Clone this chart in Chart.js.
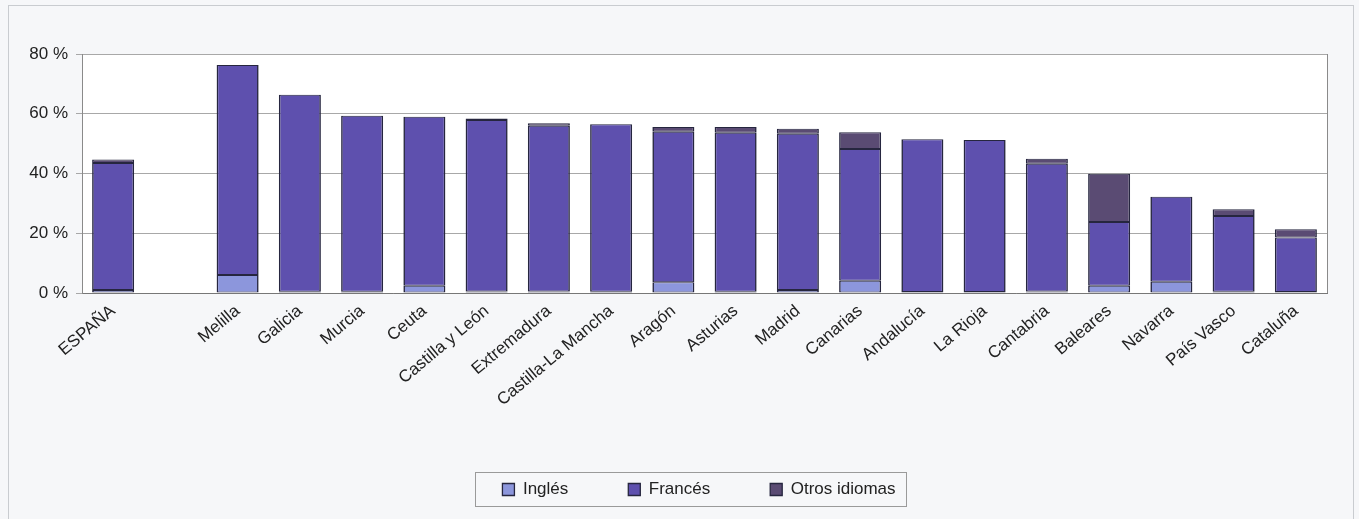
<!DOCTYPE html>
<html>
<head>
<meta charset="utf-8">
<script src="https://cdn.jsdelivr.net/npm/chart.js@4.4.1/dist/chart.umd.min.js"></script>
<style>
    body { margin: 0; background: #f6f7f9; overflow: hidden; }
    #wrap {
        position: absolute; left: 8px; top: 5px;
        width: 1344px; height: 520px;
        border: 1px solid #c9ccd0;
    }
</style>
</head>
<body>
<div id="wrap"><canvas id="myChart" width="1344" height="520"></canvas></div>
<script>
// Regions (empty slot between ESPAÑA and the regions)
let labels = ['ESPAÑA', '', 'Melilla', 'Galicia', 'Murcia', 'Ceuta', 'Castilla y León', 'Extremadura',
    'Castilla-La Mancha', 'Aragón', 'Asturias', 'Madrid', 'Canarias', 'Andalucía', 'La Rioja',
    'Cantabria', 'Baleares', 'Navarra', 'País Vasco', 'Cataluña'];

// Percent of students per second language
let ingles   = [1.0, null, 6.0, 0.4, 0.4, 2.4, 0.5, 0.5, 0.4, 3.6, 0.4, 1.0, 4.1, 0.3, 0.3, 0.5, 2.4, 3.8, 0.4, 0.3];
let frances  = [42.5, null, 70.3, 66.0, 58.9, 56.6, 57.4, 55.5, 56.1, 50.4, 53.2, 52.3, 44.1, 51.2, 50.9, 42.8, 21.4, 28.4, 25.4, 18.3];
let otros    = [1.2, null, 0, 0, 0, 0, 0.5, 0.8, 0, 1.6, 2.0, 1.7, 5.6, 0, 0, 1.6, 16.1, 0, 2.2, 2.7];

let yTicks = [0, 20, 40, 60, 80];

const barBorder = '#26263f';
const fontFamily = 'Liberation Sans, Arial, sans-serif';

// white plot background + right frame line
const plotFrame = {
    id: 'plotFrame',
    beforeDraw(chart) {
        const { ctx, chartArea } = chart;
        ctx.save();
        ctx.fillStyle = '#ffffff';
        ctx.fillRect(chartArea.left, chartArea.top, chartArea.right - chartArea.left, chartArea.bottom - chartArea.top);
        ctx.restore();
    },
    beforeDatasetsDraw(chart) {
        const { ctx, chartArea } = chart;
        ctx.save();
        ctx.strokeStyle = '#8a8a8a';
        ctx.lineWidth = 1;
        ctx.beginPath();
        ctx.moveTo(chartArea.right + 0.5, chartArea.top);
        ctx.lineTo(chartArea.right + 0.5, chartArea.bottom);
        ctx.stroke();
        ctx.restore();
    }
};

// nudge the legend a bit right, then frame its items
const legendBox = {
    id: 'legendBox',
    afterLayout(chart) {
        chart.legend.left += 31;
        chart.legend.right += 31;
    },
    afterDraw(chart) {
        const boxes = chart.legend.legendHitBoxes;
        if (!boxes || !boxes.length) return;
        let left = Math.min(...boxes.map(b => b.left));
        let right = Math.max(...boxes.map(b => b.left + b.width));
        let top = Math.min(...boxes.map(b => b.top));
        let bottom = Math.max(...boxes.map(b => b.top + b.height));
        const ctx = chart.ctx;
        ctx.save();
        ctx.strokeStyle = '#9a9a9a';
        ctx.lineWidth = 1;
        ctx.strokeRect(Math.round(left - 27) + 0.5, Math.round(top - 9) + 0.5, Math.round(right - left + 38), Math.round(bottom - top + 17));
        ctx.restore();
    }
};

const data = {
    labels: labels,
    datasets: [
        { label: 'Inglés', data: ingles, backgroundColor: '#8c96dc' },
        { label: 'Francés', data: frances, backgroundColor: '#5e50ae' },
        { label: 'Otros idiomas', data: otros, backgroundColor: '#5a4b73' }
    ]
};

const config = {
    type: 'bar',
    data: data,
    options: {
        responsive: false,
        animation: false,
        datasets: {
            bar: {
                categoryPercentage: 1,
                barPercentage: 0.675,
                borderColor: barBorder,
                borderWidth: { left: 1.6, right: 1.6, top: 1, bottom: 1 },
                borderSkipped: false
            }
        },
        layout: { padding: { top: 48, right: 26, left: 0, bottom: 18 } },
        plugins: {
            tooltip: { enabled: false },
            title: { display: false },
            legend: {
                position: 'bottom',
                labels: {
                    boxWidth: 12,
                    boxHeight: 12,
                    padding: 60,
                    color: '#222',
                    font: { family: fontFamily, size: 17 }
                }
            }
        },
        scales: {
            x: {
                stacked: true,
                grid: { display: false },
                border: { display: true, color: '#777', width: 1 },
                ticks: {
                    minRotation: 40,
                    maxRotation: 40,
                    autoSkip: false,
                    padding: 0,
                    color: '#222',
                    font: { family: fontFamily, size: 17 }
                },
                afterFit(scale) { scale.height = 128; }
            },
            y: {
                stacked: true,
                min: 0,
                max: 80,
                afterBuildTicks(scale) { scale.ticks = yTicks.map(v => ({ value: v })); },
                grid: { color: '#a8a8a8', lineWidth: 1, tickLength: 6 },
                border: { display: true, color: '#8a8a8a', width: 1 },
                ticks: {
                    padding: 8,
                    color: '#222',
                    font: { family: fontFamily, size: 17 },
                    callback: v => v + ' %'
                },
                afterFit(scale) { scale.width = 73; }
            }
        }
    },
    plugins: [plotFrame, legendBox]
};

const chart = new Chart(document.getElementById('myChart'), config);
</script>
</body>
</html>
